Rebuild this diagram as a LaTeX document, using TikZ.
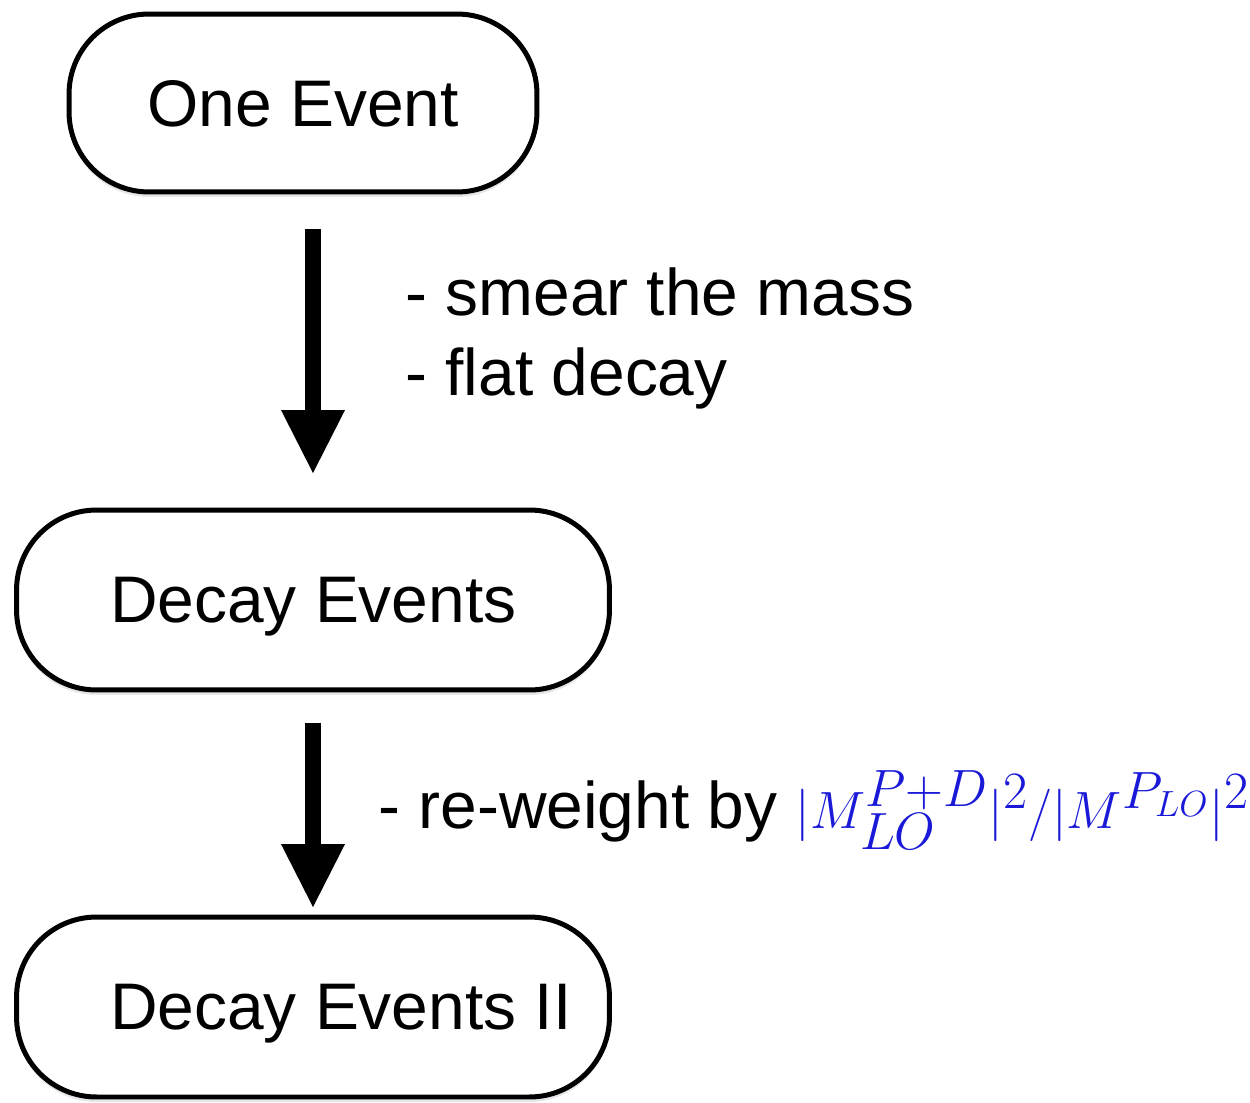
\documentclass[tikz,border=0pt]{standalone}
\usepackage{graphicx}
\usepackage{fontspec}
\setmainfont{Liberation Sans}
\usetikzlibrary{arrows.meta,shadows}
\definecolor{weightblue}{RGB}{25,25,215}
\newcommand{\lefttext}[1]{\makebox[8.12cm][l]{#1}}
\begin{document}
\begin{tikzpicture}[x=0.02cm,y=-0.02cm,
    eventbox/.style={draw,line width=0.1cm,rounded corners=1.6cm,fill=white,
      font=\fontsize{37.5}{45}\selectfont,text depth=0pt,
      drop shadow={opacity=0.2,shadow xshift=0pt,shadow yshift=-0.1cm}},
    leftbox/.style={eventbox,minimum height=3.6cm,minimum width=11.86cm,inner xsep=0pt},
    flowarrow/.style={line width=0.32cm,-{Triangle[width=1.28cm,length=1.26cm,line width=0pt]}},
    steptext/.style={font=\fontsize{37.5}{45}\selectfont,inner sep=0pt,anchor=base west}]
  \useasboundingbox (0,0) rectangle (1250,1102);
  % the three boxes
  \node[eventbox,minimum width=9.36cm,minimum height=3.56cm] (one) at (303,103) {One Event};
  \node[leftbox] (decay) at (313,600) {\lefttext{Decay Events}};
  \node[leftbox] (decayII) at (313,1007) {\lefttext{Decay Events II}};
  % steps
  \draw[flowarrow,shorten <=0.69cm,shorten >=0.69cm] (one.south -| decay.north) -- (decay.north);
  \draw[flowarrow,shorten <=0.61cm,shorten >=0.15cm] (decay.south) -- (decayII.north);
  \node[steptext] (smear) at (405,315) {- smear the mass};
  \node[steptext] (flat) at (405,395) {- flat decay};
  \node[steptext] (reweight) at (378,828)
    {- re-weight by \textcolor{weightblue}{\scalebox{1.2}{$|M_{LO}^{P+D}|^2/|M^{P_{LO}}|^2$}}};
\end{tikzpicture}
\end{document}
